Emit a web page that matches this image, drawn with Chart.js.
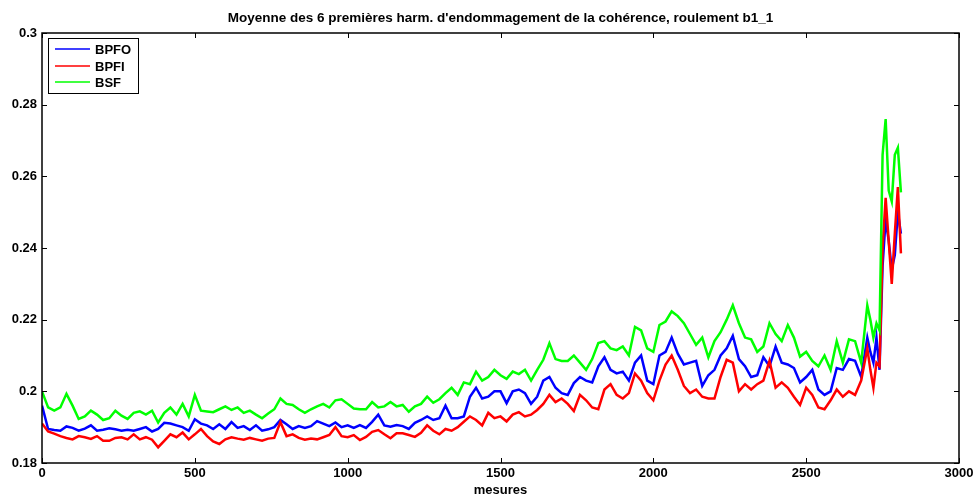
<!DOCTYPE html>
<html>
<head>
<meta charset="utf-8">
<script src="https://cdn.jsdelivr.net/npm/chart.js@4"></script>
<style>
  html, body { margin: 0; padding: 0; background: #fff; }
  canvas { display: block; }
</style>
</head>
<body>
<canvas id="chart" width="978" height="497"></canvas>
<script>
// mesures (axe x)
const mesures = [
  0, 20, 40, 60, 80, 100, 120, 140, 160, 180, 200, 220, 240, 260, 280, 300, 320, 340, 360, 380, 400, 420, 440, 460, 480,
  500, 520, 540, 560, 580, 600, 620, 640, 660, 680, 700, 720, 740, 760, 780, 800, 820, 840, 860, 880, 900, 920, 940, 960, 980,
  1000, 1020, 1040, 1060, 1080, 1100, 1120, 1140, 1160, 1180, 1200, 1220, 1240, 1260, 1280, 1300, 1320, 1340, 1360, 1380, 1400, 1420, 1440, 1460, 1480,
  1500, 1520, 1540, 1560, 1580, 1600, 1620, 1640, 1660, 1680, 1700, 1720, 1740, 1760, 1780, 1800, 1820, 1840, 1860, 1880, 1900, 1920, 1940, 1960, 1980,
  2000, 2020, 2040, 2060, 2080, 2100, 2120, 2140, 2160, 2180, 2200, 2220, 2240, 2260, 2280, 2300, 2320, 2340, 2360, 2380, 2400, 2420, 2440, 2460, 2480,
  2500, 2520, 2540, 2560, 2580, 2600, 2620, 2640, 2660, 2680, 2700,
  2710, 2720, 2730, 2740, 2750, 2760, 2770, 2780, 2790, 2800, 2810
];

const bpfo = [
  0.1960, 0.1895, 0.1892, 0.1890, 0.1902, 0.1898, 0.1890, 0.1896, 0.1905, 0.1890, 0.1893, 0.1897, 0.1894, 0.1890, 0.1893, 0.1890, 0.1895, 0.1900, 0.1888, 0.1895, 0.1912, 0.1910, 0.1905, 0.1900, 0.1890,
  0.1922, 0.1910, 0.1905, 0.1895, 0.1908, 0.1895, 0.1914, 0.1898, 0.1903, 0.1892, 0.1905, 0.1890, 0.1894, 0.1900, 0.1920, 0.1908, 0.1895, 0.1903, 0.1898, 0.1903, 0.1917, 0.1910, 0.1903, 0.1913, 0.1900,
  0.1905, 0.1898, 0.1906, 0.1898, 0.1915, 0.1935, 0.1905, 0.1901, 0.1906, 0.1903, 0.1895, 0.1912, 0.1920, 0.1930, 0.1920, 0.1925, 0.1960, 0.1925, 0.1925, 0.1930, 0.1985, 0.2010, 0.1980, 0.1985, 0.2000,
  0.2000, 0.1967, 0.2000, 0.2005, 0.1995, 0.1965, 0.1985, 0.2030, 0.2040, 0.2010, 0.1995, 0.1990, 0.2023, 0.2040, 0.2030, 0.2025, 0.2070, 0.2095, 0.2060, 0.2050, 0.2055, 0.2030, 0.2080, 0.2100, 0.2030,
  0.2020, 0.2100, 0.2110, 0.2150, 0.2105, 0.2075, 0.2080, 0.2085, 0.2015, 0.2045, 0.2060, 0.2100, 0.2120, 0.2155, 0.2090, 0.2070, 0.2040, 0.2045, 0.2095, 0.2070, 0.2125, 0.2080, 0.2075, 0.2065, 0.2025,
  0.2040, 0.2060, 0.2005, 0.1990, 0.2000, 0.2065, 0.2060, 0.2090, 0.2085, 0.2040, 0.2150,
  0.2110, 0.2080, 0.2150, 0.2060, 0.2350, 0.2480, 0.2420, 0.2340, 0.2380, 0.2500, 0.2440
];

const bpfi = [
  0.1910, 0.1888, 0.1882, 0.1875, 0.1870, 0.1866, 0.1875, 0.1872, 0.1867, 0.1875, 0.1862, 0.1862, 0.1870, 0.1872, 0.1866, 0.1880, 0.1866, 0.1872, 0.1865, 0.1844, 0.1862, 0.1880, 0.1872, 0.1885, 0.1866,
  0.1880, 0.1895, 0.1875, 0.1860, 0.1853, 0.1866, 0.1872, 0.1868, 0.1865, 0.1870, 0.1866, 0.1862, 0.1868, 0.1870, 0.1914, 0.1875, 0.1880, 0.1870, 0.1865, 0.1868, 0.1866, 0.1872, 0.1878, 0.1900, 0.1875,
  0.1872, 0.1878, 0.1864, 0.1873, 0.1887, 0.1892, 0.1880, 0.1869, 0.1883, 0.1883, 0.1878, 0.1873, 0.1884, 0.1905, 0.1890, 0.1880, 0.1895, 0.1890, 0.1900, 0.1915, 0.1930, 0.1920, 0.1905, 0.1940, 0.1925,
  0.1930, 0.1916, 0.1935, 0.1942, 0.1930, 0.1935, 0.1948, 0.1965, 0.1990, 0.1970, 0.1980, 0.1965, 0.1945, 0.1990, 0.1975, 0.1955, 0.1950, 0.2005, 0.2020, 0.1990, 0.1980, 0.1995, 0.2050, 0.2030, 0.1995,
  0.1975, 0.2030, 0.2075, 0.2100, 0.2060, 0.2015, 0.1995, 0.2005, 0.1985, 0.1980, 0.1980, 0.2040, 0.2088, 0.2080, 0.2000, 0.2020, 0.2005, 0.2020, 0.2030, 0.2085, 0.2010, 0.2025, 0.2010, 0.1985, 0.1962,
  0.2010, 0.1990, 0.1955, 0.1950, 0.1975, 0.2005, 0.1985, 0.2000, 0.1990, 0.2030, 0.2120,
  0.2060, 0.2010, 0.2080, 0.2070, 0.2400, 0.2540, 0.2420, 0.2300, 0.2440, 0.2570, 0.2385
];

const bsf = [
  0.2000, 0.1955, 0.1946, 0.1955, 0.1993, 0.1960, 0.1923, 0.1930, 0.1946, 0.1935, 0.1920, 0.1925, 0.1946, 0.1932, 0.1923, 0.1940, 0.1944, 0.1935, 0.1946, 0.1913, 0.1940, 0.1955, 0.1935, 0.1965, 0.1930,
  0.1990, 0.1946, 0.1944, 0.1942, 0.1950, 0.1958, 0.1948, 0.1955, 0.1940, 0.1946, 0.1935, 0.1925, 0.1938, 0.1950, 0.1980, 0.1965, 0.1962, 0.1950, 0.1940, 0.1950, 0.1958, 0.1965, 0.1955, 0.1975, 0.1978,
  0.1965, 0.1952, 0.1950, 0.1950, 0.1970, 0.1955, 0.1958, 0.1970, 0.1958, 0.1962, 0.1943, 0.1958, 0.1965, 0.1985, 0.1968, 0.1978, 0.1995, 0.2010, 0.1990, 0.2025, 0.2020, 0.2055, 0.2030, 0.2040, 0.2060,
  0.2045, 0.2035, 0.2055, 0.2048, 0.2060, 0.2030, 0.2060, 0.2088, 0.2134, 0.2090, 0.2085, 0.2085, 0.2100, 0.2080, 0.2060, 0.2090, 0.2135, 0.2140, 0.2120, 0.2115, 0.2125, 0.2100, 0.2180, 0.2170, 0.2120,
  0.2110, 0.2185, 0.2195, 0.2223, 0.2210, 0.2190, 0.2160, 0.2130, 0.2150, 0.2095, 0.2140, 0.2165, 0.2200, 0.2240, 0.2190, 0.2150, 0.2145, 0.2110, 0.2125, 0.2190, 0.2160, 0.2140, 0.2185, 0.2150, 0.2097,
  0.2110, 0.2085, 0.2070, 0.2100, 0.2060, 0.2140, 0.2080, 0.2145, 0.2140, 0.2080, 0.2240,
  0.2200, 0.2150, 0.2190, 0.2170, 0.2660, 0.2760, 0.2560, 0.2530, 0.2660, 0.2680, 0.2555
];

const xTicks = [0, 500, 1000, 1500, 2000, 2500, 3000];
const yTicks = [0.18, 0.2, 0.22, 0.24, 0.26, 0.28, 0.3];

const titre = "Moyenne des 6 premières harm. d'endommagement de la cohérence, roulement b1_1";
const FONT = "'Liberation Sans', Arial, sans-serif";

// cadre, graduations vers l'intérieur, titre, légende
const matlabStyle = {
  id: "matlabStyle",
  afterDraw(chart) {
    const { ctx, chartArea: a, scales } = chart;
    ctx.save();
    ctx.strokeStyle = "#000";
    ctx.lineWidth = 1.5;
    ctx.strokeRect(a.left, a.top, a.right - a.left, a.bottom - a.top);

    ctx.lineWidth = 1;
    ctx.beginPath();
    xTicks.forEach(v => {
      const x = Math.round(scales.x.getPixelForValue(v)) + 0.5;
      ctx.moveTo(x, a.bottom); ctx.lineTo(x, a.bottom - 5);
      ctx.moveTo(x, a.top); ctx.lineTo(x, a.top + 5);
    });
    yTicks.forEach(v => {
      const y = Math.round(scales.y.getPixelForValue(v)) + 0.5;
      ctx.moveTo(a.left, y); ctx.lineTo(a.left + 5, y);
      ctx.moveTo(a.right, y); ctx.lineTo(a.right - 5, y);
    });
    ctx.stroke();

    ctx.fillStyle = "#000";
    ctx.textAlign = "center";
    ctx.textBaseline = "middle";
    const cx = (a.left + a.right) / 2;
    ctx.font = "bold 13.5px " + FONT;
    ctx.fillText(titre, cx, 18);
    ctx.font = "bold 13px " + FONT;
    ctx.fillText("mesures", cx, 490);

    // légende
    const lx = 48, ly = 38, lw = 90, lh = 55;
    ctx.fillStyle = "#fff";
    ctx.fillRect(lx, ly, lw, lh);
    ctx.strokeStyle = "#000";
    ctx.lineWidth = 1;
    ctx.strokeRect(lx + 0.5, ly + 0.5, lw, lh);
    const items = [["BPFO", "#0000ff", 49], ["BPFI", "#ff0000", 66], ["BSF", "#00ff00", 82]];
    ctx.textAlign = "left";
    items.forEach(([lab, col, y]) => {
      ctx.strokeStyle = col;
      ctx.lineWidth = 1.5;
      ctx.beginPath();
      ctx.moveTo(55, y); ctx.lineTo(90, y);
      ctx.stroke();
      ctx.fillStyle = "#000";
      ctx.fillText(lab, 95, y + 1);
    });
    ctx.restore();
  }
};

const toPoints = arr => mesures.map((m, i) => ({ x: m, y: arr[i] }));

new Chart(document.getElementById("chart"), {
  type: "line",
  data: {
    datasets: [
      { label: "BPFO", data: toPoints(bpfo), borderColor: "#0000ff", order: 2 },
      { label: "BPFI", data: toPoints(bpfi), borderColor: "#ff0000", order: 1 },
      { label: "BSF", data: toPoints(bsf), borderColor: "#00ff00", order: 0 }
    ]
  },
  options: {
    responsive: false,
    animation: false,
    layout: { padding: { top: 33, right: 19, left: 0, bottom: 0 } },
    elements: {
      point: { radius: 0 },
      line: { borderWidth: 2.5, tension: 0 }
    },
    plugins: {
      legend: { display: false },
      tooltip: { enabled: false },
      title: { display: false }
    },
    scales: {
      x: {
        type: "linear",
        min: 0,
        max: 3000,
        afterFit: s => { s.height = 34; },
        afterBuildTicks: s => { s.ticks = xTicks.map(v => ({ value: v })); },
        grid: { display: false, drawTicks: false },
        border: { display: false },
        ticks: {
          padding: 3,
          color: "#000",
          maxRotation: 0,
          autoSkip: false,
          font: { family: FONT, size: 13, weight: "bold" },
          callback: v => String(v)
        }
      },
      y: {
        min: 0.18,
        max: 0.3,
        afterFit: s => { s.width = 42; },
        afterBuildTicks: s => { s.ticks = yTicks.map(v => ({ value: v })); },
        grid: { display: false, drawTicks: false },
        border: { display: false },
        ticks: {
          padding: 5,
          color: "#000",
          autoSkip: false,
          font: { family: FONT, size: 13, weight: "bold" },
          callback: v => String(Number(v.toFixed(2)))
        }
      }
    }
  },
  plugins: [matlabStyle]
});
</script>
</body>
</html>
